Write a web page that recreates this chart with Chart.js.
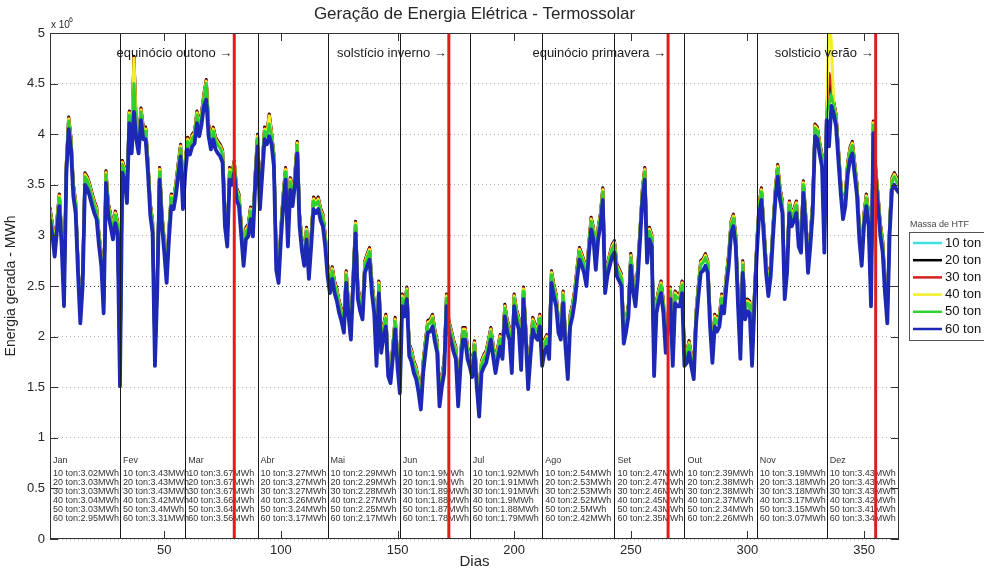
<!DOCTYPE html>
<html lang="pt">
<head>
<meta charset="utf-8">
<title>Geração de Energia Elétrica - Termossolar</title>
<script src="https://cdn.jsdelivr.net/npm/chart.js@4.4.1/dist/chart.umd.min.js"></script>
<style>
  html, body { margin: 0; padding: 0; background: #fff; }
  #wrap { position: relative; width: 984px; height: 573px; overflow: hidden; }
</style>
</head>
<body>
<div id="wrap"><canvas id="chart" width="984" height="573"></canvas></div>
<script>
// ── Data (energy in 10^6 MWh per day) ───────────────────────────────

const seriesNames  = ['10 ton', '20 ton', '30 ton', '40 ton', '50 ton', '60 ton'];
const seriesColors = ['#3fe0e0', '#000000', '#d42020', '#f2ee2a', '#30d030', '#1d29b4'];
const seriesWidths = [3, 3, 3, 3, 3, 3.8];

const monthNames = ['Jan', 'Fev', 'Mar', 'Abr', 'Mai', 'Jun', 'Jul', 'Ago', 'Set', 'Out', 'Nov', 'Dez'];
const monthEnds  = [31, 59, 90, 120, 151, 181, 212, 243, 273, 304, 334];
const seasonDays   = [80, 172, 266, 355];
const seasonLabels = ['equinócio outono →', 'solstício inverno →', 'equinócio primavera →', 'solsticio verão →'];

const xTicks = [50, 100, 150, 200, 250, 300, 350];
const yTicks = [0, 0.5, 1, 1.5, 2, 2.5, 3, 3.5, 4, 4.5, 5];

// monthly averages printed at the bottom of each month
const avg10 = [3.02, 3.43, 3.67, 3.27, 2.29, 1.9, 1.92, 2.54, 2.47, 2.39, 3.19, 3.43];
const avg20 = [3.03, 3.43, 3.67, 3.27, 2.29, 1.9, 1.91, 2.53, 2.47, 2.38, 3.18, 3.43];
const avg30 = [3.03, 3.43, 3.67, 3.27, 2.28, 1.89, 1.91, 2.53, 2.46, 2.38, 3.18, 3.43];
const avg40 = [3.04, 3.42, 3.66, 3.26, 2.27, 1.88, 1.9, 2.52, 2.45, 2.37, 3.17, 3.42];
const avg50 = [3.03, 3.4, 3.64, 3.24, 2.25, 1.87, 1.88, 2.5, 2.43, 2.34, 3.15, 3.41];
const avg60 = [2.95, 3.31, 3.56, 3.17, 2.17, 1.78, 1.79, 2.42, 2.35, 2.26, 3.07, 3.34];

const ton60 = [
  3.15,3.00,2.79,3.05,3.29,2.90,2.30,3.60,4.05,3.85,3.39,3.22,2.63,2.13,2.50,3.50,3.46,3.39,3.30,3.22,3.16,2.90,2.70,2.23,3.52,3.20,3.09,2.96,3.12,3.02,1.51,
  3.62,3.55,3.32,4.11,3.81,4.22,3.95,3.81,4.14,3.95,3.95,3.62,3.20,3.02,1.71,2.47,3.55,3.10,2.83,2.53,2.96,3.29,3.26,3.40,3.60,3.78,3.26,3.62,
  3.85,3.80,3.88,3.91,4.11,3.98,4.10,4.28,4.34,3.98,3.85,3.95,3.85,3.81,3.78,3.72,3.09,2.89,3.55,3.50,3.62,3.35,3.29,3.00,2.70,2.96,2.99,3.16,2.99,3.50,3.88,
  3.26,3.60,3.95,3.90,3.98,3.90,3.68,2.66,2.53,2.96,3.30,3.55,2.89,3.45,3.29,3.50,3.81,3.09,2.85,2.70,2.96,2.57,2.90,3.26,3.22,3.26,3.15,3.09,2.89,2.60,
  2.43,2.57,2.43,2.35,2.23,2.15,2.04,2.53,2.20,1.97,2.50,3.02,2.37,2.25,2.17,2.63,2.70,2.76,2.43,2.23,1.71,2.43,1.84,2.00,2.10,1.61,1.54,1.80,2.07,1.70,1.44,
  2.30,2.20,2.37,1.81,1.75,1.64,1.58,1.45,1.28,1.64,1.85,2.04,2.05,2.10,1.95,1.84,1.31,1.50,1.64,2.30,2.04,1.95,1.85,1.78,1.31,1.70,1.97,1.97,1.78,1.70,
  1.60,1.84,1.50,1.21,1.64,1.70,1.74,1.85,1.97,1.80,1.64,1.78,1.90,1.78,2.20,2.05,1.97,1.64,2.30,2.15,2.07,1.67,2.37,1.97,1.48,1.80,2.07,2.00,1.97,2.10,1.71,
  1.85,1.90,1.78,2.53,2.40,2.30,2.04,1.97,2.33,1.90,1.58,2.10,2.20,2.35,2.57,2.76,2.70,2.63,2.50,2.80,3.06,2.96,2.66,2.96,3.10,3.35,2.43,2.60,2.70,2.79,2.83,
  2.60,2.55,2.50,1.93,2.05,2.20,2.70,2.45,2.30,2.57,2.96,3.35,3.55,2.73,2.96,2.89,1.61,2.23,2.35,2.43,2.23,1.84,2.10,2.37,1.71,2.33,2.30,2.30,2.43,1.71,
  1.74,1.84,1.70,1.58,2.13,2.40,2.63,2.65,2.70,2.63,2.10,1.74,2.10,2.05,2.10,2.30,2.23,2.50,2.70,3.02,3.09,2.89,2.30,1.78,2.63,2.17,2.25,2.23,1.71,2.30,2.80,
  3.19,3.35,3.00,2.63,2.40,2.60,2.99,3.35,3.58,3.35,3.22,2.37,2.63,3.22,3.09,3.15,3.22,2.89,2.83,3.42,3.09,2.63,2.90,3.22,3.98,3.95,3.80,3.68,2.83,4.14,
  3.88,4.28,4.20,4.08,3.75,3.42,3.16,3.29,3.60,3.75,3.81,3.60,3.39,2.96,2.70,3.10,3.29,3.09,2.30,4.01,3.55,3.29,3.00,2.83,2.43,2.13,3.02,3.45,3.50,3.45,3.42
];

const ton50 = [
  3.23,3.08,2.87,3.13,3.37,2.98,2.38,3.68,4.13,3.93,3.47,3.30,2.71,2.21,2.58,3.58,3.54,3.47,3.38,3.30,3.24,2.98,2.78,2.31,3.60,3.28,3.17,3.04,3.20,3.10,1.59,
  3.70,3.63,3.40,4.19,3.89,4.50,4.03,3.89,4.22,4.03,4.03,3.70,3.28,3.10,1.79,2.55,3.63,3.18,2.91,2.61,3.04,3.37,3.34,3.48,3.68,3.86,3.34,3.70,
  3.93,3.88,3.96,3.99,4.19,4.06,4.18,4.36,4.50,4.06,3.93,4.03,3.93,3.89,3.86,3.80,3.17,2.97,3.63,3.58,3.70,3.43,3.37,3.08,2.78,3.04,3.07,3.24,3.07,3.58,3.96,
  3.34,3.68,4.03,3.98,4.10,3.98,3.76,2.74,2.61,3.04,3.38,3.63,2.97,3.53,3.37,3.58,3.89,3.17,2.93,2.78,3.04,2.65,2.98,3.34,3.30,3.34,3.23,3.17,2.97,2.68,
  2.51,2.65,2.51,2.43,2.31,2.23,2.12,2.61,2.28,2.05,2.58,3.10,2.45,2.33,2.25,2.71,2.78,2.84,2.51,2.31,1.79,2.51,1.92,2.08,2.18,1.69,1.62,1.88,2.15,1.78,1.52,
  2.38,2.28,2.45,1.89,1.83,1.72,1.66,1.53,1.36,1.72,1.93,2.12,2.13,2.18,2.03,1.92,1.39,1.58,1.72,2.38,2.12,2.03,1.93,1.86,1.39,1.78,2.05,2.05,1.86,1.78,
  1.68,1.92,1.58,1.29,1.72,1.78,1.82,1.93,2.05,1.88,1.72,1.86,1.98,1.86,2.28,2.13,2.05,1.72,2.38,2.23,2.15,1.75,2.45,2.05,1.56,1.88,2.15,2.08,2.05,2.18,1.79,
  1.93,1.98,1.86,2.61,2.48,2.38,2.12,2.05,2.41,1.98,1.66,2.18,2.28,2.43,2.65,2.84,2.78,2.71,2.58,2.88,3.14,3.04,2.74,3.04,3.18,3.43,2.51,2.68,2.78,2.87,2.91,
  2.68,2.63,2.58,2.01,2.13,2.28,2.78,2.53,2.38,2.65,3.04,3.43,3.63,2.81,3.04,2.97,1.69,2.31,2.43,2.51,2.31,1.92,2.18,2.45,1.79,2.41,2.38,2.38,2.51,1.79,
  1.82,1.92,1.78,1.66,2.21,2.48,2.71,2.73,2.78,2.71,2.18,1.82,2.18,2.13,2.18,2.38,2.31,2.58,2.78,3.10,3.17,2.97,2.38,1.86,2.71,2.25,2.33,2.31,1.79,2.38,2.88,
  3.27,3.43,3.08,2.71,2.48,2.68,3.07,3.43,3.66,3.43,3.30,2.45,2.71,3.30,3.17,3.23,3.30,2.97,2.91,3.50,3.17,2.71,2.98,3.30,4.06,4.03,3.88,3.76,2.91,4.22,
  4.30,4.38,4.28,4.16,3.83,3.50,3.24,3.37,3.68,3.83,3.89,3.68,3.47,3.04,2.78,3.18,3.37,3.17,2.38,4.09,3.63,3.37,3.08,2.91,2.51,2.21,3.10,3.53,3.58,3.53,3.50
];

const ton40 = [
  3.25,3.10,2.89,3.15,3.39,3.00,2.40,3.70,4.15,3.95,3.49,3.32,2.73,2.23,2.60,3.60,3.56,3.49,3.40,3.32,3.26,3.00,2.80,2.33,3.62,3.30,3.19,3.06,3.22,3.12,1.61,
  3.72,3.65,3.42,4.21,3.91,4.75,4.05,3.91,4.24,4.05,4.05,3.72,3.30,3.12,1.81,2.57,3.65,3.20,2.93,2.63,3.06,3.39,3.36,3.50,3.70,3.88,3.36,3.72,
  3.95,3.90,3.98,4.01,4.21,4.08,4.20,4.38,4.52,4.08,3.95,4.05,3.95,3.91,3.88,3.82,3.19,2.99,3.65,3.60,3.72,3.45,3.39,3.10,2.80,3.06,3.09,3.26,3.09,3.60,3.98,
  3.36,3.70,4.05,4.00,4.18,4.00,3.78,2.76,2.63,3.06,3.40,3.65,2.99,3.55,3.39,3.60,3.91,3.19,2.95,2.80,3.06,2.67,3.00,3.36,3.32,3.36,3.25,3.19,2.99,2.70,
  2.53,2.67,2.53,2.45,2.33,2.25,2.14,2.63,2.30,2.07,2.60,3.12,2.47,2.35,2.27,2.73,2.80,2.86,2.53,2.33,1.81,2.53,1.94,2.10,2.20,1.71,1.64,1.90,2.17,1.80,1.54,
  2.40,2.30,2.47,1.91,1.85,1.74,1.68,1.55,1.38,1.74,1.95,2.14,2.15,2.20,2.05,1.94,1.41,1.60,1.74,2.40,2.14,2.05,1.95,1.88,1.41,1.80,2.07,2.07,1.88,1.80,
  1.70,1.94,1.60,1.31,1.74,1.80,1.84,1.95,2.07,1.90,1.74,1.88,2.00,1.88,2.30,2.15,2.07,1.74,2.40,2.25,2.17,1.77,2.47,2.07,1.58,1.90,2.17,2.10,2.07,2.20,1.81,
  1.95,2.00,1.88,2.63,2.50,2.40,2.14,2.07,2.43,2.00,1.68,2.20,2.30,2.45,2.67,2.86,2.80,2.73,2.60,2.90,3.16,3.06,2.76,3.06,3.20,3.45,2.53,2.70,2.80,2.89,2.93,
  2.70,2.65,2.60,2.03,2.15,2.30,2.80,2.55,2.40,2.67,3.06,3.45,3.65,2.83,3.06,2.99,1.71,2.33,2.45,2.53,2.33,1.94,2.20,2.47,1.81,2.43,2.40,2.40,2.53,1.81,
  1.84,1.94,1.80,1.68,2.23,2.50,2.73,2.75,2.80,2.73,2.20,1.84,2.20,2.15,2.20,2.40,2.33,2.60,2.80,3.12,3.19,2.99,2.40,1.88,2.73,2.27,2.35,2.33,1.81,2.40,2.90,
  3.29,3.45,3.10,2.73,2.50,2.70,3.09,3.45,3.68,3.45,3.32,2.47,2.73,3.32,3.19,3.25,3.32,2.99,2.93,3.52,3.19,2.73,3.00,3.32,4.08,4.05,3.90,3.78,2.93,4.24,
  5.20,4.90,4.30,4.18,3.85,3.52,3.26,3.39,3.70,3.85,3.91,3.70,3.49,3.06,2.80,3.20,3.39,3.19,2.40,4.11,3.65,3.39,3.10,2.93,2.53,2.23,3.12,3.55,3.60,3.55,3.52
];

const ton30 = [
  3.26,3.11,2.90,3.16,3.40,3.01,2.41,3.71,4.16,3.96,3.50,3.33,2.74,2.24,2.61,3.61,3.57,3.50,3.41,3.33,3.27,3.01,2.81,2.34,3.63,3.31,3.20,3.07,3.23,3.13,1.62,
  3.73,3.66,3.43,4.22,3.92,4.76,4.06,3.92,4.25,4.06,4.06,3.73,3.31,3.13,1.82,2.58,3.66,3.21,2.94,2.64,3.07,3.40,3.37,3.51,3.71,3.89,3.37,3.73,
  3.96,3.91,3.99,4.02,4.22,4.09,4.21,4.39,4.53,4.09,3.96,4.06,3.96,3.92,3.89,3.83,3.20,3.00,3.66,3.61,3.73,3.46,3.40,3.11,2.81,3.07,3.10,3.27,3.10,3.61,3.99,
  3.37,3.71,4.06,4.01,4.19,4.01,3.79,2.77,2.64,3.07,3.41,3.66,3.00,3.56,3.40,3.61,3.92,3.20,2.96,2.81,3.07,2.68,3.01,3.37,3.33,3.37,3.26,3.20,3.00,2.71,
  2.54,2.68,2.54,2.46,2.34,2.26,2.15,2.64,2.31,2.08,2.61,3.13,2.48,2.36,2.28,2.74,2.81,2.87,2.54,2.34,1.82,2.54,1.95,2.11,2.21,1.72,1.65,1.91,2.18,1.81,1.55,
  2.41,2.31,2.48,1.92,1.86,1.75,1.69,1.56,1.39,1.75,1.96,2.15,2.16,2.21,2.06,1.95,1.42,1.61,1.75,2.41,2.15,2.06,1.96,1.89,1.42,1.81,2.08,2.08,1.89,1.81,
  1.71,1.95,1.61,1.32,1.75,1.81,1.85,1.96,2.08,1.91,1.75,1.89,2.01,1.89,2.31,2.16,2.08,1.75,2.41,2.26,2.18,1.78,2.48,2.08,1.59,1.91,2.18,2.11,2.08,2.21,1.82,
  1.96,2.01,1.89,2.64,2.51,2.41,2.15,2.08,2.44,2.01,1.69,2.21,2.31,2.46,2.68,2.87,2.81,2.74,2.61,2.91,3.17,3.07,2.77,3.07,3.21,3.46,2.54,2.71,2.81,2.90,2.94,
  2.71,2.66,2.61,2.04,2.16,2.31,2.81,2.56,2.41,2.68,3.07,3.46,3.66,2.84,3.07,3.00,1.72,2.34,2.46,2.54,2.34,1.95,2.21,2.48,1.82,2.44,2.41,2.41,2.54,1.82,
  1.85,1.95,1.81,1.69,2.24,2.51,2.74,2.76,2.81,2.74,2.21,1.85,2.21,2.16,2.21,2.41,2.34,2.61,2.81,3.13,3.20,3.00,2.41,1.89,2.74,2.28,2.36,2.34,1.82,2.41,2.91,
  3.30,3.46,3.11,2.74,2.51,2.71,3.10,3.46,3.69,3.46,3.33,2.48,2.74,3.33,3.20,3.26,3.33,3.00,2.94,3.53,3.20,2.74,3.01,3.33,4.09,4.06,3.91,3.79,2.94,4.25,
  4.60,4.50,4.31,4.19,3.86,3.53,3.27,3.40,3.71,3.86,3.92,3.71,3.50,3.07,2.81,3.21,3.40,3.20,2.41,4.12,3.66,3.40,3.11,2.94,2.54,2.24,3.13,3.56,3.61,3.56,3.53
];

const ton20 = [
  3.27,3.12,2.91,3.17,3.41,3.02,2.42,3.72,4.17,3.97,3.51,3.34,2.75,2.25,2.62,3.62,3.58,3.51,3.42,3.34,3.28,3.02,2.82,2.35,3.64,3.32,3.21,3.08,3.24,3.14,1.63,
  3.74,3.67,3.44,4.23,3.93,4.77,4.07,3.93,4.26,4.07,4.07,3.74,3.32,3.14,1.83,2.59,3.67,3.22,2.95,2.65,3.08,3.41,3.38,3.52,3.72,3.90,3.38,3.74,
  3.97,3.92,4.00,4.03,4.23,4.10,4.22,4.40,4.54,4.10,3.97,4.07,3.97,3.93,3.90,3.84,3.21,3.01,3.67,3.62,3.74,3.47,3.41,3.12,2.82,3.08,3.11,3.28,3.11,3.62,4.00,
  3.38,3.72,4.07,4.02,4.20,4.02,3.80,2.78,2.65,3.08,3.42,3.67,3.01,3.57,3.41,3.62,3.93,3.21,2.97,2.82,3.08,2.69,3.02,3.38,3.34,3.38,3.27,3.21,3.01,2.72,
  2.55,2.69,2.55,2.47,2.35,2.27,2.16,2.65,2.32,2.09,2.62,3.14,2.49,2.37,2.29,2.75,2.82,2.88,2.55,2.35,1.83,2.55,1.96,2.12,2.22,1.73,1.66,1.92,2.19,1.82,1.56,
  2.42,2.32,2.49,1.93,1.87,1.76,1.70,1.57,1.40,1.76,1.97,2.16,2.17,2.22,2.07,1.96,1.43,1.62,1.76,2.42,2.16,2.07,1.97,1.90,1.43,1.82,2.09,2.09,1.90,1.82,
  1.72,1.96,1.62,1.33,1.76,1.82,1.86,1.97,2.09,1.92,1.76,1.90,2.02,1.90,2.32,2.17,2.09,1.76,2.42,2.27,2.19,1.79,2.49,2.09,1.60,1.92,2.19,2.12,2.09,2.22,1.83,
  1.97,2.02,1.90,2.65,2.52,2.42,2.16,2.09,2.45,2.02,1.70,2.22,2.32,2.47,2.69,2.88,2.82,2.75,2.62,2.92,3.18,3.08,2.78,3.08,3.22,3.47,2.55,2.72,2.82,2.91,2.95,
  2.72,2.67,2.62,2.05,2.17,2.32,2.82,2.57,2.42,2.69,3.08,3.47,3.67,2.85,3.08,3.01,1.73,2.35,2.47,2.55,2.35,1.96,2.22,2.49,1.83,2.45,2.42,2.42,2.55,1.83,
  1.86,1.96,1.82,1.70,2.25,2.52,2.75,2.77,2.82,2.75,2.22,1.86,2.22,2.17,2.22,2.42,2.35,2.62,2.82,3.14,3.21,3.01,2.42,1.90,2.75,2.29,2.37,2.35,1.83,2.42,2.92,
  3.31,3.47,3.12,2.75,2.52,2.72,3.11,3.47,3.70,3.47,3.34,2.49,2.75,3.34,3.21,3.27,3.34,3.01,2.95,3.54,3.21,2.75,3.02,3.34,4.10,4.07,3.92,3.80,2.95,4.26,
  4.50,4.45,4.32,4.20,3.87,3.54,3.28,3.41,3.72,3.87,3.93,3.72,3.51,3.08,2.82,3.22,3.41,3.21,2.42,4.13,3.67,3.41,3.12,2.95,2.55,2.25,3.14,3.57,3.62,3.57,3.54
];

const ton10 = [
  3.25,3.10,2.89,3.15,3.39,3.00,2.40,3.70,4.15,3.95,3.49,3.32,2.73,2.23,2.60,3.60,3.56,3.49,3.40,3.32,3.26,3.00,2.80,2.33,3.62,3.30,3.19,3.06,3.22,3.12,1.61,
  3.72,3.65,3.42,4.21,3.91,4.74,4.05,3.91,4.24,4.05,4.05,3.72,3.30,3.12,1.81,2.57,3.65,3.20,2.93,2.63,3.06,3.39,3.36,3.50,3.70,3.88,3.36,3.72,
  3.95,3.90,3.98,4.01,4.21,4.08,4.20,4.38,4.52,4.08,3.95,4.05,3.95,3.91,3.88,3.82,3.19,2.99,3.65,3.60,3.72,3.45,3.39,3.10,2.80,3.06,3.09,3.26,3.09,3.60,3.98,
  3.36,3.70,4.05,4.00,4.18,4.00,3.78,2.76,2.63,3.06,3.40,3.65,2.99,3.55,3.39,3.60,3.91,3.19,2.95,2.80,3.06,2.67,3.00,3.36,3.32,3.36,3.25,3.19,2.99,2.70,
  2.53,2.67,2.53,2.45,2.33,2.25,2.14,2.63,2.30,2.07,2.60,3.12,2.47,2.35,2.27,2.73,2.80,2.86,2.53,2.33,1.81,2.53,1.94,2.10,2.20,1.71,1.64,1.90,2.17,1.80,1.54,
  2.40,2.30,2.47,1.91,1.85,1.74,1.68,1.55,1.38,1.74,1.95,2.14,2.15,2.20,2.05,1.94,1.41,1.60,1.74,2.40,2.14,2.05,1.95,1.88,1.41,1.80,2.07,2.07,1.88,1.80,
  1.70,1.94,1.60,1.31,1.74,1.80,1.84,1.95,2.07,1.90,1.74,1.88,2.00,1.88,2.30,2.15,2.07,1.74,2.40,2.25,2.17,1.77,2.47,2.07,1.58,1.90,2.17,2.10,2.07,2.20,1.81,
  1.95,2.00,1.88,2.63,2.50,2.40,2.14,2.07,2.43,2.00,1.68,2.20,2.30,2.45,2.67,2.86,2.80,2.73,2.60,2.90,3.16,3.06,2.76,3.06,3.20,3.45,2.53,2.70,2.80,2.89,2.93,
  2.70,2.65,2.60,2.03,2.15,2.30,2.80,2.55,2.40,2.67,3.06,3.45,3.65,2.83,3.06,2.99,1.71,2.33,2.45,2.53,2.33,1.94,2.20,2.47,1.81,2.43,2.40,2.40,2.53,1.81,
  1.84,1.94,1.80,1.68,2.23,2.50,2.73,2.75,2.80,2.73,2.20,1.84,2.20,2.15,2.20,2.40,2.33,2.60,2.80,3.12,3.19,2.99,2.40,1.88,2.73,2.27,2.35,2.33,1.81,2.40,2.90,
  3.29,3.45,3.10,2.73,2.50,2.70,3.09,3.45,3.68,3.45,3.32,2.47,2.73,3.32,3.19,3.25,3.32,2.99,2.93,3.52,3.19,2.73,3.00,3.32,4.08,4.05,3.90,3.78,2.93,4.24,
  4.45,4.40,4.30,4.18,3.85,3.52,3.26,3.39,3.70,3.85,3.91,3.70,3.49,3.06,2.80,3.20,3.39,3.19,2.40,4.11,3.65,3.39,3.10,2.93,2.53,2.23,3.12,3.55,3.60,3.55,3.52
];

const allSeries = [ton10, ton20, ton30, ton40, ton50, ton60];
const allAverages = [avg10, avg20, avg30, avg40, avg50, avg60];
const days = ton60.map((_, i) => i + 1);

// ── Styling ─────────────────────────────────────────────────────────

const FONT = '"Liberation Sans", Arial, "DejaVu Sans", sans-serif';
const INK = '#262626';
Chart.defaults.font.family = FONT;
Chart.defaults.color = INK;

// ── Decorations: month lines, seasons, tables, frame, legend ────────

const decor = {
    id: 'decor',
    afterDatasetsDraw(chart) {
        const { ctx, chartArea: a, scales: { x } } = chart;
        ctx.save();

        // monthly averages table
        ctx.font = '9px ' + FONT;
        ctx.fillStyle = '#333';
        ctx.textAlign = 'left';
        ctx.textBaseline = 'middle';
        monthNames.forEach((m, i) => {
            const x0 = x.getPixelForValue(i === 0 ? 1 : monthEnds[i - 1]) + 3;
            ctx.fillText(m, x0, 461);
            allAverages.forEach((arr, k) => {
                ctx.fillText(seriesNames[k] + ':' + arr[i] + 'MWh', x0, 474 + 9 * k);
            });
        });

        // month separators
        ctx.strokeStyle = '#1a1a1a';
        ctx.lineWidth = 1;
        monthEnds.forEach(d => {
            const px = Math.round(x.getPixelForValue(d)) + 0.5;
            ctx.beginPath();
            ctx.moveTo(px, a.top);
            ctx.lineTo(px, a.bottom);
            ctx.stroke();
        });

        // equinox / solstice lines
        ctx.strokeStyle = '#e01c1c';
        ctx.lineWidth = 3;
        seasonDays.forEach(d => {
            const px = x.getPixelForValue(d);
            ctx.beginPath();
            ctx.moveTo(px, a.top);
            ctx.lineTo(px, a.bottom);
            ctx.stroke();
        });

        ctx.font = '13px ' + FONT;
        ctx.fillStyle = '#1a1a1a';
        ctx.textAlign = 'right';
        seasonDays.forEach((d, i) => {
            ctx.fillText(seasonLabels[i], x.getPixelForValue(d) - 2, 53);
        });
        ctx.restore();
    },
    afterDraw(chart) {
        const { ctx, chartArea: a, scales: { x, y } } = chart;
        ctx.save();

        // axes box with inward ticks
        ctx.strokeStyle = '#333';
        ctx.lineWidth = 1;
        ctx.strokeRect(a.left + 0.5, a.top + 0.5, a.right - a.left - 1, a.bottom - a.top - 1);
        ctx.beginPath();
        xTicks.forEach(v => {
            const px = Math.round(x.getPixelForValue(v)) + 0.5;
            ctx.moveTo(px, a.bottom); ctx.lineTo(px, a.bottom - 8);
            ctx.moveTo(px, a.top);    ctx.lineTo(px, a.top + 8);
        });
        yTicks.forEach(v => {
            const py = Math.round(y.getPixelForValue(v)) + 0.5;
            ctx.moveTo(a.left, py);  ctx.lineTo(a.left + 8, py);
            ctx.moveTo(a.right, py); ctx.lineTo(a.right - 8, py);
        });
        ctx.stroke();

        // title and exponent
        ctx.fillStyle = INK;
        ctx.textBaseline = 'middle';
        ctx.textAlign = 'center';
        ctx.font = '17px ' + FONT;
        ctx.fillText('Geração de Energia Elétrica - Termossolar', (a.left + a.right) / 2, 14);
        ctx.textAlign = 'left';
        ctx.font = '10px ' + FONT;
        ctx.fillText('x 10', a.left + 1, 25);
        ctx.font = '7px ' + FONT;
        ctx.fillText('6', a.left + 19, 20);

        // legend
        const lx = 909, ly = 232;
        ctx.font = '9px ' + FONT;
        ctx.fillStyle = '#444';
        ctx.fillText('Massa de HTF', lx + 1, 225);
        ctx.fillStyle = '#fff';
        ctx.fillRect(lx, ly, 90, 108);
        ctx.strokeStyle = '#555';
        ctx.lineWidth = 1;
        ctx.strokeRect(lx + 0.5, ly + 0.5, 90, 108);
        ctx.font = '13px ' + FONT;
        seriesNames.forEach((name, k) => {
            const yy = 243 + k * 17.2;
            ctx.strokeStyle = seriesColors[k];
            ctx.lineWidth = 2.5;
            ctx.beginPath();
            ctx.moveTo(lx + 4, yy);
            ctx.lineTo(lx + 33, yy);
            ctx.stroke();
            ctx.fillStyle = '#111';
            ctx.fillText(name, lx + 36, yy);
        });
        ctx.restore();
    }
};

// ── Chart ───────────────────────────────────────────────────────────

const datasets = allSeries.map((vals, k) => ({
    label: seriesNames[k],
    data: vals.map((v, i) => ({ x: days[i], y: v })),
    borderColor: seriesColors[k],
    backgroundColor: seriesColors[k],
    borderWidth: seriesWidths[k],
    borderJoinStyle: 'round',
    borderCapStyle: 'round',
    pointRadius: 0,
    tension: 0,
    order: allSeries.length - 1 - k,
    clip: 0,
}));

new Chart(document.getElementById('chart'), {
    type: 'line',
    data: { datasets },
    options: {
        responsive: false,
        animation: false,
        events: [],
        layout: { padding: { top: 33, right: 85, left: 0, bottom: 0 } },
        plugins: {
            legend: { display: false },
            tooltip: { enabled: false },
            title: { display: false },
        },
        scales: {
            x: {
                type: 'linear',
                min: 1,
                max: 365,
                afterBuildTicks: s => { s.ticks = xTicks.map(v => ({ value: v })); },
                afterFit: s => { s.height = 34; },
                grid: { display: false, drawTicks: false },
                border: { display: false },
                ticks: { padding: 4, color: INK, font: { size: 13 } },
                title: { display: true, text: 'Dias', color: INK, font: { size: 15 }, padding: { top: 0, bottom: 2 } },
            },
            y: {
                type: 'linear',
                min: 0,
                max: 5,
                afterBuildTicks: s => { s.ticks = yTicks.map(v => ({ value: v })); },
                afterFit: s => { s.width = 50; },
                grid: {
                    color: c => (c.tick && c.tick.value === 2.5 ? '#333' : '#b5b5b5'),
                    drawTicks: false,
                    lineWidth: 1,
                },
                border: { display: false, dash: [1, 3] },
                ticks: { padding: 5, color: INK, font: { size: 13 }, callback: v => String(v) },
                title: { display: true, text: 'Energia gerada - MWh', color: INK, font: { size: 14 }, padding: { top: 3, bottom: 0 } },
            },
        },
    },
    plugins: [decor],
});
</script>
</body>
</html>
